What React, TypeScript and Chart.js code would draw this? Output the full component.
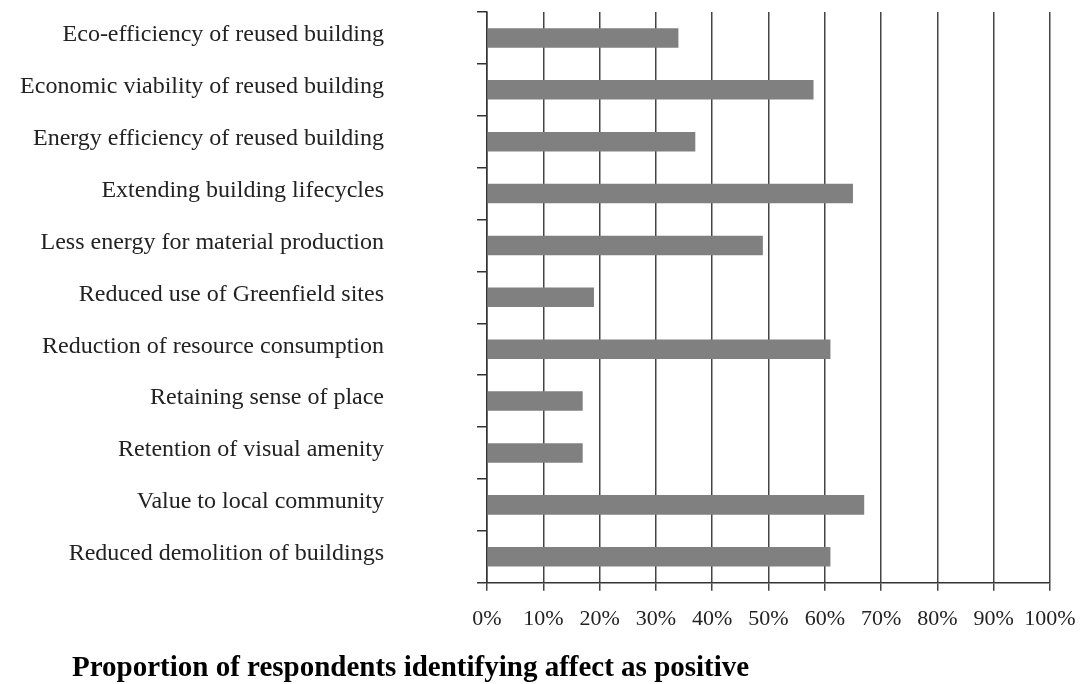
import React, { useEffect, useRef } from "react";
import { Chart, registerables } from "chart.js";

Chart.register(...registerables);

const categories: string[] = [
  "Eco-efficiency of reused building",
  "Economic viability of reused building",
  "Energy efficiency of reused building",
  "Extending building lifecycles",
  "Less energy for material production",
  "Reduced use of Greenfield sites",
  "Reduction of resource consumption",
  "Retaining sense of place",
  "Retention of visual amenity",
  "Value to local community",
  "Reduced demolition of buildings",
];

const positivePercent: number[] = [34, 58, 37, 65, 49, 19, 61, 17, 17, 67, 61];

const xTickLabels: string[] = ["0%", "10%", "20%", "30%", "40%", "50%", "60%", "70%", "80%", "90%", "100%"];

const titleText = "Proportion of respondents identifying affect as positive";

const SERIF = '"Liberation Serif", "Times New Roman", serif';

const titleShift = {
  id: "titleShift",
  afterLayout(chart: any) {
    const tb = chart.titleBlock;
    if (tb) {
      tb.left = 72;
    }
  },
};

export default function App() {
  const canvasRef = useRef<HTMLCanvasElement | null>(null);

  useEffect(() => {
    const canvas = canvasRef.current;
    if (!canvas) return;
    const chart = new Chart(canvas, {
      type: "bar",
      data: {
        labels: categories,
        datasets: [
          {
            data: positivePercent,
            backgroundColor: "#808080",
            borderWidth: 0,
            barPercentage: 0.376,
            categoryPercentage: 1,
          },
        ],
      },
      options: {
        indexAxis: "y",
        responsive: false,
        animation: false,
        layout: { padding: { left: 0, top: 12, right: 31, bottom: 0 } },
        plugins: {
          legend: { display: false },
          tooltip: { enabled: false },
          title: {
            display: true,
            position: "bottom",
            align: "start",
            text: titleText,
            color: "#000",
            padding: 0,
            font: { family: SERIF, size: 29, weight: "bold", lineHeight: 1.1 },
          },
        },
        scales: {
          x: {
            type: "linear",
            position: "bottom",
            min: 0,
            max: 100,
            ticks: {
              stepSize: 10,
              color: "#222",
              padding: 15,
              maxRotation: 0,
              minRotation: 0,
              autoSkip: false,
              font: { family: SERIF, size: 22 },
              callback: (v: any) => xTickLabels[Math.round(Number(v) / 10)] ?? "",
            },
            grid: {
              color: "#444",
              lineWidth: 1.5,
              drawTicks: true,
              tickLength: 8,
            },
            border: { display: true, color: "#333", width: 1.5 },
            afterFit: (scale: any) => {
              scale.height = 69.4;
              scale.paddingLeft = 0;
              scale.paddingRight = 0;
            },
          },
          y: {
            type: "category",
            position: "left",
            ticks: {
              autoSkip: false,
              color: "#222",
              padding: 93,
              labelOffset: -3,
              font: { family: SERIF, size: 24 },
            },
            grid: {
              display: true,
              offset: true,
              drawOnChartArea: false,
              drawTicks: true,
              tickLength: 10,
              color: "#333",
              lineWidth: 1.5,
            },
            border: { display: true, color: "#333", width: 1.5 },
            afterFit: (scale: any) => {
              scale.width = 487;
              scale.paddingTop = 0;
              scale.paddingBottom = 0;
            },
          },
        },
      },
      plugins: [titleShift],
    });
    return () => chart.destroy();
  }, []);

  return (
    <div style={{ position: "fixed", left: 0, top: 0, width: 1081, height: 684, background: "#fff" }}>
      <canvas ref={canvasRef} width={1081} height={684} style={{ display: "block" }} />
    </div>
  );
}
